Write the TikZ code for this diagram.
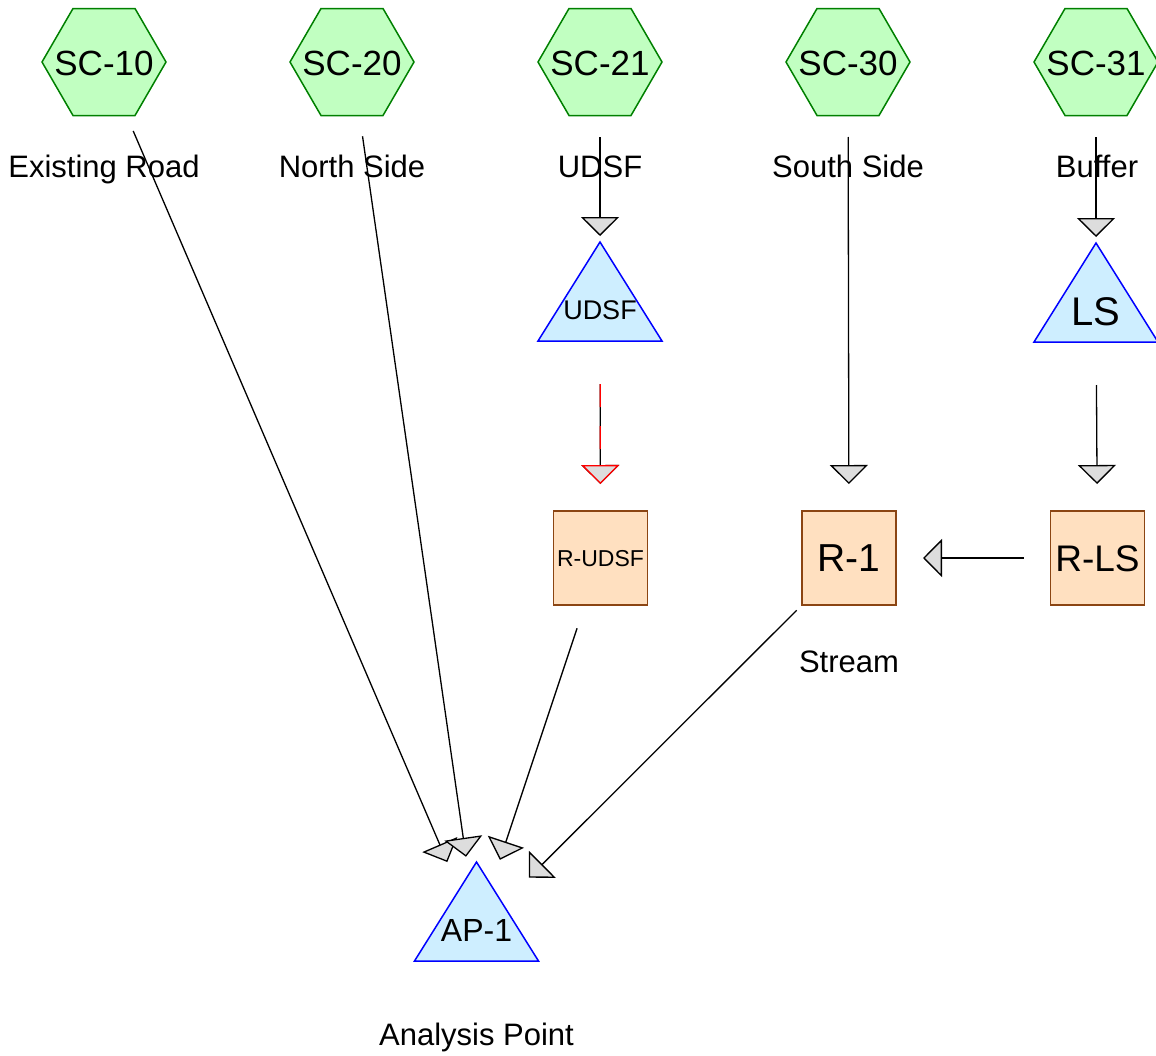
\documentclass[tikz,border=0pt]{standalone}
\usepackage{fontspec}
\setmainfont{Liberation Sans}
\usetikzlibrary{arrows.meta,shapes.geometric,calc}
\pgfdeclarelayer{bg}
\pgfsetlayers{bg,main}
\definecolor{hexfill}{RGB}{193,255,193}
\definecolor{hexline}{RGB}{0,128,0}
\definecolor{trifill}{RGB}{206,238,255}
\definecolor{triline}{RGB}{0,0,255}
\definecolor{sqfill}{RGB}{255,224,192}
\definecolor{sqline}{RGB}{139,69,19}
\definecolor{headgray}{RGB}{221,221,221}
\tikzset{
  txt/.style={inner sep=0pt, text height={0.716*#1pt}, text depth=0pt,
    font=\fontsize{#1pt}{#1pt}\selectfont},
  hexnode/.style={txt=35},
  hexshape/.style={draw=hexline, fill=hexfill, line width=1.5pt, line join=miter},
  sqnode/.style={rectangle, minimum size=94pt, draw=sqline, fill=sqfill,
    line width=1.5pt, txt=#1},
  trinode/.style={txt=#1},
  trishape/.style={draw=triline, fill=trifill, line width=1.5pt, line join=miter},
  lbl/.style={txt=31},
  conn/.style={line width=1.3pt, shorten <=74pt, shorten >=74pt,
    -{Triangle[length=19pt,width=38pt,fill=headgray]}},
  redconn/.style={conn, draw=red, dash pattern=on 23pt off 19pt}
}
\begin{document}
\begin{tikzpicture}[x=1pt,y=-1pt]
\useasboundingbox (0,0) rectangle (1156,1055);
% hexagons
\node[hexnode] (s10) at (104,63) {SC-10};
\node[hexnode] (s20) at (352,63) {SC-20};
\node[hexnode] (s21) at (600,63) {SC-21};
\node[hexnode] (s30) at (848,63) {SC-30};
\node[hexnode] (s31) at (1096,63) {SC-31};
\node[lbl] (l10) at (104,166) {Existing Road};
\node[lbl] (l20) at (352,166) {North Side};
\node[lbl] (l21) at (600,166) {UDSF};
\node[lbl] (l30) at (848,166) {South Side};
\node[lbl] (l31) at (1097,166) {Buffer};
% triangles
\node[trinode=27] (udsf) at (600,310) {UDSF};
\node[trinode=40] (ls) at (1096,311) {LS};
\node[trinode=32] (ap) at (476.5,930) {AP-1};
\node[lbl] (lap) at (476.5,1034) {Analysis Point};
\begin{pgfonlayer}{bg}
\foreach \n in {udsf,ls,ap}
  \filldraw[trishape] ($(\n.center)+(0,-68)$) -- ($(\n.center)+(62,31)$) -- ($(\n.center)+(-62,31)$) -- cycle;
\foreach \n in {s10,s20,s21,s30,s31}
  \filldraw[hexshape] ($(\n.center)+(-62,-1)$) -- ($(\n.center)+(-31,-54.5)$) -- ($(\n.center)+(31,-54.5)$)
    -- ($(\n.center)+(62,-1)$) -- ($(\n.center)+(31,52.5)$) -- ($(\n.center)+(-31,52.5)$) -- cycle;
\end{pgfonlayer}
% squares
\node[sqnode=23] (rudsf) at (600.5,558) {R-UDSF};
\node[sqnode=39] (r1) at (849,558) {R-1};
\node[sqnode=37] (rls) at (1097.5,558) {R-LS};
\node[lbl] (lr1) at (849,661) {Stream};
% connectors
\draw[conn] (s21.center) -- (udsf.center);
\draw[conn] (s31.center) -- (ls.center);
\draw[conn] (s30.center) -- (r1.center);
\draw[conn] (ls.center) -- (rls.center);
\draw[conn] (udsf.center) -- (rudsf.center);
\draw[redconn] (udsf.center) -- (rudsf.center);
\draw[conn] (rls.center) -- (r1.center);
\draw[conn] (s10.center) -- (ap.center);
\draw[conn] (s20.center) -- (ap.center);
\draw[conn] (rudsf.center) -- (ap.center);
\draw[conn] (r1.center) -- (ap.center);
\end{tikzpicture}
\end{document}
